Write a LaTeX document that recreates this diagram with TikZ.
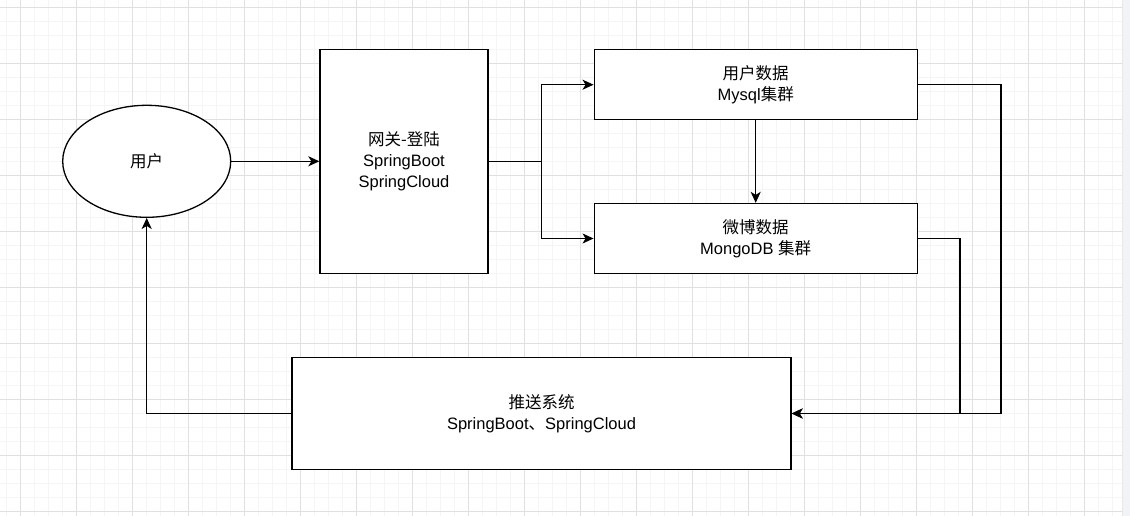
\documentclass[tikz,border=0pt]{standalone}
\usepackage{fontspec}
\setmainfont{Liberation Sans}
\newfontfamily\cjk{Noto Sans CJK SC}
\usetikzlibrary{shapes.geometric,arrows.meta}
\definecolor{majorgrid}{RGB}{224,224,224}
\definecolor{minorgrid}{RGB}{245,245,245}
\definecolor{sidebar}{RGB}{241,243,246}
\tikzset{
    box/.style={draw, line width=1.3pt, fill=white, align=center, inner sep=0pt,
        font=\fontsize{16.5}{21}\selectfont},
    arr/.style={line width=1.3pt, -{Stealth[length=11pt, width=10pt, inset=3pt]}},
    link/.style={line width=1.3pt}
}
\begin{document}
\begin{tikzpicture}[x=1pt, y=-1pt]
        % Page and grid
        \useasboundingbox (0,0) rectangle (1130,516);
        \fill[white] (0,0) rectangle (1130,516);
        \foreach \k in {0,...,79}
            \draw[minorgrid, line width=0.8pt] (6.7+14*\k,0) -- (6.7+14*\k,516);
        \foreach \k in {0,...,36}
            \draw[minorgrid, line width=0.8pt] (0,7.3+14*\k) -- (1122.7,7.3+14*\k);
        \foreach \k in {0,...,19}
            \draw[majorgrid, line width=0.8pt] (20.7+56*\k,0) -- (20.7+56*\k,516);
        \foreach \k in {0,...,9}
            \draw[majorgrid, line width=0.8pt] (0,7.3+56*\k) -- (1122.7,7.3+56*\k);
        \fill[sidebar] (1122.7,0) rectangle (1130,516);
        \draw[majorgrid!80!black!30, line width=1pt] (1122.7,0) -- (1122.7,516);

        % Nodes
        \node[box, ellipse, minimum width=168pt, minimum height=112pt] (user) at (146.7,161.3) {\cjk 用户};
        \node[box, minimum width=168pt, minimum height=224pt] (gate) at (404,161.3)
            {{\cjk 网关-登陆}\\SpringBoot\\SpringCloud};
        \node[box, minimum width=323pt, minimum height=70pt] (mysql) at (755.7,84.7)
            {{\cjk 用户数据}\\Mysql{\cjk 集群}};
        \node[box, minimum width=323pt, minimum height=70pt] (weibo) at (755.7,238.5)
            {{\cjk 微博数据}\\MongoDB {\cjk 集群}};
        \node[box, minimum width=499pt, minimum height=112pt] (push) at (541.5,413.5)
            {{\cjk 推送系统}\\SpringBoot{\cjk 、}SpringCloud};
        \coordinate (split) at (541.3,161.3);

        % Connectors
        \draw[arr] (user) -- (gate);
        \draw[link] (gate.east) -- (split);
        \draw[arr] (split) |- (mysql.west);
        \draw[arr] (split) |- (weibo.west);
        \draw[arr] (mysql) -- (weibo);
        \draw[arr] (mysql.east) -- ++(83,0) |- (push.east);
        \draw[arr] (weibo.east) -- ++(42,0) |- (push.east);
        \draw[arr] (push.west) -| (user.south);
    \end{tikzpicture}
\end{document}
